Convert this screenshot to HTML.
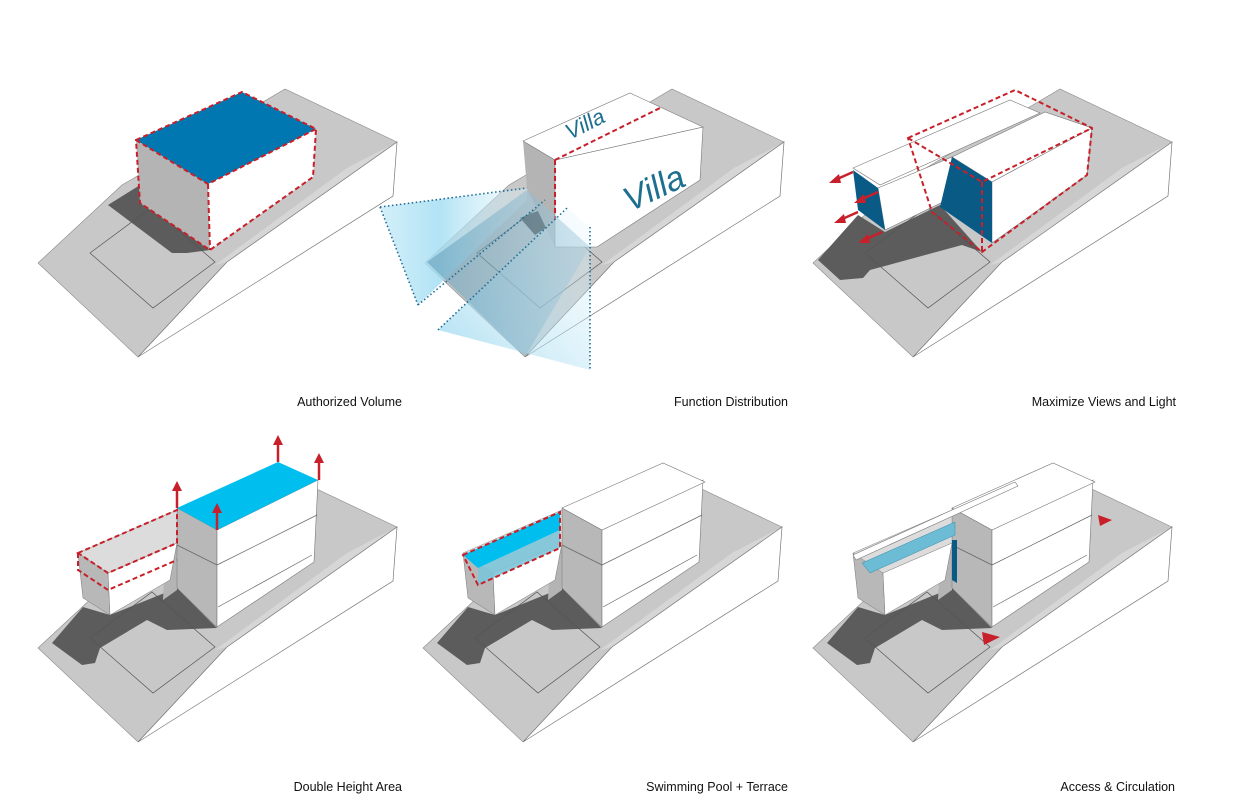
<!DOCTYPE html>
<html><head><meta charset="utf-8"><style>
html,body{margin:0;padding:0;background:#fff;}
svg{display:block;}
text{font-family:"Liberation Sans",Arial,sans-serif;}
</style></head><body>
<svg width="1246" height="800" viewBox="0 0 1246 800" xmlns="http://www.w3.org/2000/svg">
<defs>
<g id="site">
<polygon points="38,263 122,185 285,89 397,142 227,262 138,357" fill="#c8c8c8" stroke="#8a8a8a" stroke-width="0.6"/>
<polygon points="347,168 397,142 227,262 215,265" fill="#d6d6d6"/>
<polygon points="138,357 227,262 397,142 393,196" fill="#fff" stroke="#777" stroke-width="0.7"/>
</g>
<polygon id="fp" points="90,253 153,308 215,262 152,207" fill="none" stroke="#555" stroke-width="0.7"/>
<g id="arrowL"><line x1="0" y1="0" x2="-18" y2="8" stroke="#c8202a" stroke-width="2.5"/><polygon points="-24,11 -14,2 -12,11" fill="#c8202a"/></g>
<g id="arrowU"><line x1="0" y1="0" x2="0" y2="-18" stroke="#c8202a" stroke-width="2.5"/><polygon points="-5,-17 5,-17 0,-27" fill="#c8202a"/></g>
<linearGradient id="cone1" x1="0" y1="0" x2="1" y2="0"><stop offset="0" stop-color="#c9ecf8"/><stop offset="0.4" stop-color="#9fdcf2"/><stop offset="1" stop-color="#e2f4fa" stop-opacity="0.4"/></linearGradient>
<linearGradient id="cone2" x1="0" y1="1" x2="1" y2="0"><stop offset="0" stop-color="#8fd3ee"/><stop offset="1" stop-color="#e6f6fb" stop-opacity="0.3"/></linearGradient>
<linearGradient id="plane" x1="0" y1="0" x2="1" y2="0"><stop offset="0" stop-color="#5c9bb8" stop-opacity="0.55"/><stop offset="1" stop-color="#a9cfe0" stop-opacity="0.5"/></linearGradient>
</defs>

<!-- ROW 1 PANEL 1 -->
<use href="#site"/>
<polygon points="108,205 140,185 210,250 187,253 172,253" fill="#5c5c5c"/>
<use href="#fp"/>
<polygon points="136,140 208,184 210,250 140,203" fill="#b4b4b4"/>
<polygon points="208,184 316,129 313,177 210,250" fill="#fff"/>
<polygon points="136,140 242,92 316,129 208,184" fill="#0077b0"/>
<g fill="none" stroke="#c8202a" stroke-width="2" stroke-dasharray="5,3">
<polygon points="136,140 242,92 316,129 313,177 210,250 140,203"/>
<polyline points="136,140 208,184 316,129"/><line x1="208" y1="184" x2="210" y2="250"/>
</g>
<text x="402" y="406" font-size="12.5" text-anchor="end" fill="#111">Authorized Volume</text>

<!-- ROW 1 PANEL 2 -->
<use href="#site" transform="translate(387,0)"/>
<use href="#fp" transform="translate(387,0)"/>
<polygon points="520,218 540,210 555,222 535,235" fill="#4a4a4a"/>
<polygon points="523,141 555,160 555,247 527,188" fill="#b4b4b4"/>
<polygon points="555,160 703,127 700,180 597,247 555,247" fill="#fff" stroke="#777" stroke-width="0.6"/>
<polygon points="523,141 630,93 703,127 555,160" fill="#fff" stroke="#777" stroke-width="0.6"/>
<line x1="555" y1="160" x2="660" y2="108" stroke="#c8202a" stroke-width="2" stroke-dasharray="5,3"/>
<line x1="555" y1="160" x2="555" y2="220" stroke="#c8202a" stroke-width="2" stroke-dasharray="5,3"/>
<text x="0" y="0" font-size="22" font-style="italic" fill="#1d6f8f" transform="translate(570,140) rotate(-27)">Villa</text>
<text x="0" y="0" font-size="34" font-style="italic" fill="#1d6f8f" transform="translate(630,212) rotate(-25)">Villa</text>
<polygon points="380,207 527,188 527,200 418,305" fill="url(#cone1)" opacity="0.8"/>
<polygon points="438,330 567,208 590,227 590,370" fill="url(#cone2)" opacity="0.75"/>
<polygon points="427,262 527,190 590,247 525,357" fill="url(#plane)"/>
<g fill="none" stroke="#1f6f95" stroke-width="1.6" stroke-dasharray="1.5,2.5">
<line x1="380" y1="207" x2="527" y2="188"/><line x1="380" y1="207" x2="418" y2="305"/>
<line x1="418" y1="305" x2="545" y2="200"/>
<line x1="438" y1="330" x2="567" y2="208"/><line x1="590" y1="227" x2="590" y2="370"/>
</g>
<text x="788" y="406" font-size="12.5" text-anchor="end" fill="#111">Function Distribution</text>

<!-- ROW 1 PANEL 3 -->
<use href="#site" transform="translate(775,0)"/>
<polygon points="818,260 858,215 885,232 940,205 982,252 962,245 870,270 863,278 840,280" fill="#5c5c5c"/>
<use href="#fp" transform="translate(775,0)"/>
<polygon points="853,168 1010,100 1040,113 880,185" fill="#fff" stroke="#777" stroke-width="0.6"/>
<polygon points="878,188 952,157 947,200 885,230" fill="#fff" stroke="#777" stroke-width="0.6"/>
<polygon points="853,170 878,188 885,230 858,210" fill="#0a5a86"/>
<polygon points="952,157 1045,112 1092,128 992,182" fill="#fff" stroke="#777" stroke-width="0.6"/>
<polygon points="992,182 1092,128 1087,175 992,243" fill="#fff" stroke="#777" stroke-width="0.6"/>
<polygon points="952,157 992,182 992,243 940,207" fill="#0a5a86"/>
<g fill="none" stroke="#c8202a" stroke-width="2" stroke-dasharray="5,3">
<polygon points="908,138 1015,90 1092,128 1087,175 982,252 932,212"/>
<polyline points="908,138 982,182 1092,128"/><line x1="982" y1="182" x2="982" y2="252"/>
</g>
<use href="#arrowL" transform="translate(853,172)"/>
<use href="#arrowL" transform="translate(878,192)"/>
<use href="#arrowL" transform="translate(858,212)"/>
<use href="#arrowL" transform="translate(882,232)"/>
<text x="1176" y="406" font-size="12.5" text-anchor="end" fill="#111">Maximize Views and Light</text>

<!-- ROW 2 common -->
<g id="r2">
<use href="#site" transform="translate(0,385)"/>
<polygon points="52,643 83,607 110,615 177,588 217,628 167,630 147,620 100,648 95,663 82,665" fill="#5c5c5c"/>
<use href="#fp" transform="translate(0,385)"/>
<polygon points="165,560 177,543 177,590 163,600" fill="#b4b4b4"/>
<polygon points="177,508 217,530 217,627 177,588" fill="#b8b8b8" stroke="#777" stroke-width="0.5"/>
<polygon points="217,530 318,480 314,562 217,627" fill="#fff" stroke="#777" stroke-width="0.6"/>
<line x1="217" y1="565" x2="317" y2="515" stroke="#666" stroke-width="0.7"/>
<line x1="218" y1="607" x2="312" y2="555" stroke="#666" stroke-width="0.7"/>
<line x1="177" y1="545" x2="217" y2="565" stroke="#666" stroke-width="0.7"/>
<polygon points="78,553 108,573 110,615 83,598" fill="#b8b8b8" stroke="#777" stroke-width="0.5"/>
<polygon points="108,573 177,543 170,580 110,615" fill="#fff" stroke="#777" stroke-width="0.5"/>
<polygon points="78,553 177,510 177,543 108,573" fill="#dcdcdc" stroke="#888" stroke-width="0.5"/>
</g>
<!-- Row2 panel1 specifics -->
<polygon points="177,508 278,462 318,480 217,530" fill="#00bfef"/>
<g fill="none" stroke="#c8202a" stroke-width="2" stroke-dasharray="5,3">
<polygon points="78,553 177,510 177,543 108,573"/>
<polyline points="78,553 78,570 108,590 177,560"/>
</g>
<use href="#arrowU" transform="translate(177,508)"/>
<use href="#arrowU" transform="translate(217,530)"/>
<use href="#arrowU" transform="translate(278,462)"/>
<use href="#arrowU" transform="translate(319,480)"/>
<text x="402" y="791" font-size="12.5" text-anchor="end" fill="#111">Double Height Area</text>

<!-- Row2 panel2 -->
<use href="#r2" transform="translate(385,0)"/>
<polygon points="562,508 663,463 705,482 602,530" fill="#fff" stroke="#777" stroke-width="0.6"/>
<polygon points="463,555 560,512 560,530 478,568" fill="#00bfef"/>
<polygon points="478,568 560,530 560,548 478,585" fill="#7cc4d8" opacity="0.9"/>
<g fill="none" stroke="#c8202a" stroke-width="2" stroke-dasharray="5,3">
<polygon points="463,555 560,512 560,548 478,585"/>
</g>
<text x="788" y="791" font-size="12.5" text-anchor="end" fill="#111">Swimming Pool + Terrace</text>

<!-- Row2 panel3 -->
<use href="#r2" transform="translate(775,0)"/>
<polygon points="952,508 1053,463 1095,482 992,530" fill="#fff" stroke="#777" stroke-width="0.6"/>
<polygon points="853,555 952,510 1015,482 1018,486 955,515 856,560" fill="#fff" stroke="#777" stroke-width="0.6"/>
<polygon points="862,563 955,522 955,535 870,573" fill="#6cbcd6" stroke="#3a8aa8" stroke-width="0.5"/>
<polygon points="952,540 957,540 957,583 952,580" fill="#0a5a86"/>
<polygon points="1098,515 1112,520 1100,526" fill="#c8202a"/>
<polygon points="982,632 1000,637 984,645" fill="#c8202a"/>
<text x="1175" y="791" font-size="12.5" text-anchor="end" fill="#111">Access &amp; Circulation</text>
</svg>
</body></html>
